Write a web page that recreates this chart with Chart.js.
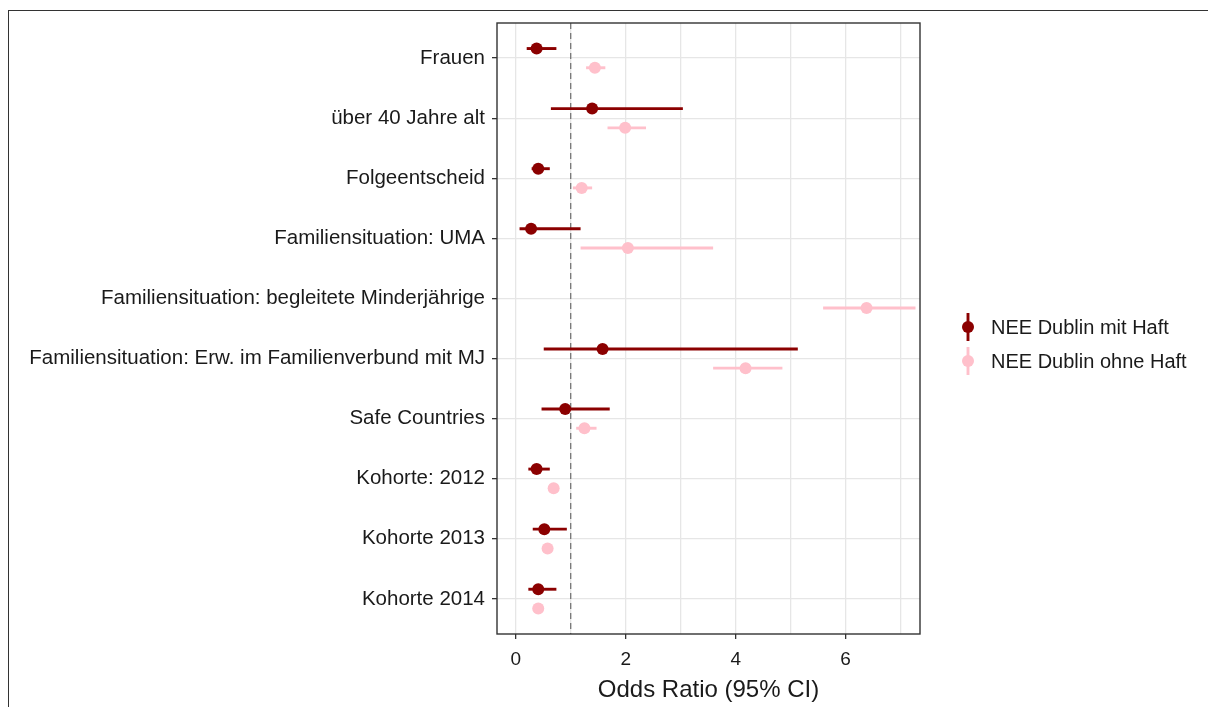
<!DOCTYPE html>
<html>
<head>
<meta charset="utf-8">
<script src="https://cdn.jsdelivr.net/npm/chart.js@4/dist/chart.umd.min.js"></script>
<style>
  html, body { margin: 0; padding: 0; background: #fff; }
  #wrap { position: relative; width: 1208px; height: 707px; }
  #frame { position: absolute; left: 8px; top: 10px; right: 0; bottom: 0;
           border-left: 1.5px solid #333; border-top: 1.5px solid #333; pointer-events: none; }
</style>
</head>
<body>
<div id="wrap">
  <canvas id="chart" width="1208" height="707"></canvas>
  <div id="frame"></div>
</div>
<script>
// categories, top to bottom
const categories = [
    'Frauen',
    'über 40 Jahre alt',
    'Folgeentscheid',
    'Familiensituation: UMA',
    'Familiensituation: begleitete Minderjährige',
    'Familiensituation: Erw. im Familienverbund mit MJ',
    'Safe Countries',
    'Kohorte: 2012',
    'Kohorte 2013',
    'Kohorte 2014'
];

// NEE Dublin mit Haft
const mitOR   = [0.38, 1.39, 0.41, 0.28, null, 1.58, 0.90, 0.38, 0.52, 0.41];
const mitLow  = [0.20, 0.64, 0.29, 0.07, null, 0.51, 0.47, 0.23, 0.31, 0.23];
const mitHigh = [0.74, 3.04, 0.62, 1.18, null, 5.13, 1.71, 0.62, 0.93, 0.74];

// NEE Dublin ohne Haft
const ohneOR   = [1.44, 1.99, 1.20, 2.04, 6.38, 4.18, 1.25, 0.69, 0.58, 0.41];
const ohneLow  = [1.28, 1.67, 1.04, 1.18, 5.59, 3.59, 1.10, 0.65, 0.54, 0.37];
const ohneHigh = [1.63, 2.37, 1.39, 3.59, 7.27, 4.85, 1.47, 0.73, 0.62, 0.45];

const xTicks = [0, 1, 2, 3, 4, 5, 6, 7];
const refLine = 1;

const seriesNames = ['NEE Dublin mit Haft', 'NEE Dublin ohne Haft'];
const seriesColors = ['#8B0000', '#FFC0CB'];

const n = categories.length;
const dodge = 0.16;
const FONT = '"Liberation Sans", Arial, sans-serif';

function toPoints(or, low, high, shift) {
    const pts = [];
    or.forEach((v, i) => {
        if (v === null) return;
        pts.push({ x: v, y: n - i + shift, low: low[i], high: high[i] });
    });
    return pts;
}

// dashed reference line, panel border, error bars, legend
const forestPlugin = {
    id: 'forest',
    beforeDatasetsDraw(chart) {
        const { ctx, chartArea: a, scales: { x, y } } = chart;
        ctx.save();
        ctx.strokeStyle = '#777';
        ctx.lineWidth = 1.3;
        ctx.setLineDash([6, 4]);
        const px = x.getPixelForValue(refLine);
        ctx.beginPath();
        ctx.moveTo(px, a.top);
        ctx.lineTo(px, a.bottom);
        ctx.stroke();
        ctx.setLineDash([]);
        chart.data.datasets.forEach((ds) => {
            ctx.strokeStyle = ds.borderColor;
            ctx.lineWidth = 2.9;
            ds.data.forEach((p) => {
                const py = y.getPixelForValue(p.y);
                ctx.beginPath();
                ctx.moveTo(x.getPixelForValue(p.low), py);
                ctx.lineTo(x.getPixelForValue(p.high), py);
                ctx.stroke();
            });
        });
        ctx.restore();
    },
    afterDraw(chart) {
        const { ctx, chartArea: a } = chart;
        ctx.save();
        ctx.strokeStyle = '#333';
        ctx.lineWidth = 1.4;
        ctx.strokeRect(a.left, a.top, a.right - a.left, a.bottom - a.top);

        // legend
        const lx = 968;
        const ly = [327, 361];
        ctx.font = '20px ' + FONT;
        ctx.textBaseline = 'middle';
        seriesNames.forEach((name, i) => {
            ctx.strokeStyle = seriesColors[i];
            ctx.fillStyle = seriesColors[i];
            ctx.lineWidth = 2.9;
            ctx.beginPath();
            ctx.moveTo(lx, ly[i] - 14);
            ctx.lineTo(lx, ly[i] + 14);
            ctx.stroke();
            ctx.beginPath();
            ctx.arc(lx, ly[i], 6, 0, Math.PI * 2);
            ctx.fill();
            ctx.fillStyle = '#1a1a1a';
            ctx.fillText(name, 991, ly[i] + 1);
        });
        ctx.restore();
    }
};

new Chart(document.getElementById('chart').getContext('2d'), {
    type: 'scatter',
    data: {
        datasets: [
            {
                label: seriesNames[0],
                data: toPoints(mitOR, mitLow, mitHigh, dodge),
                backgroundColor: seriesColors[0],
                borderColor: seriesColors[0],
                pointRadius: 6,
                borderWidth: 0
            },
            {
                label: seriesNames[1],
                data: toPoints(ohneOR, ohneLow, ohneHigh, -dodge),
                backgroundColor: seriesColors[1],
                borderColor: seriesColors[1],
                pointRadius: 6,
                borderWidth: 0
            }
        ]
    },
    options: {
        responsive: false,
        animation: false,
        layout: { padding: { top: 23, right: 288, left: 0, bottom: 0 } },
        plugins: {
            legend: { display: false },
            tooltip: { enabled: false }
        },
        scales: {
            x: {
                type: 'linear',
                min: -0.34,
                max: 7.352,
                afterBuildTicks: (s) => { s.ticks = xTicks.map(v => ({ value: v })); },
                afterFit: (s) => { s.height = 73; },
                border: { display: false },
                grid: {
                    color: '#e6e6e6',
                    lineWidth: 1.3,
                    tickLength: 5,
                    tickColor: (c) => (c.tick && c.tick.value % 2 === 0) ? '#333' : 'rgba(0,0,0,0)'
                },
                ticks: {
                    autoSkip: false,
                    maxRotation: 0,
                    padding: 9,
                    color: '#1a1a1a',
                    font: { family: FONT, size: 19 },
                    callback: (v) => (v % 2 === 0 ? String(v) : '')
                },
                title: {
                    display: true,
                    text: 'Odds Ratio (95% CI)',
                    color: '#1a1a1a',
                    font: { family: FONT, size: 24 },
                    padding: { top: 2, bottom: 2 }
                }
            },
            y: {
                type: 'linear',
                min: 0.415,
                max: 10.585,
                afterBuildTicks: (s) => { s.ticks = categories.map((c, i) => ({ value: n - i })); },
                afterFit: (s) => { s.width = 497; },
                border: { display: false },
                grid: {
                    color: '#e6e6e6',
                    lineWidth: 1.3,
                    tickLength: 5,
                    tickColor: '#333'
                },
                ticks: {
                    autoSkip: false,
                    padding: 7,
                    color: '#1a1a1a',
                    font: { family: FONT, size: 20.5 },
                    callback: (v) => categories[n - v]
                }
            }
        }
    },
    plugins: [forestPlugin]
});
</script>
</body>
</html>
